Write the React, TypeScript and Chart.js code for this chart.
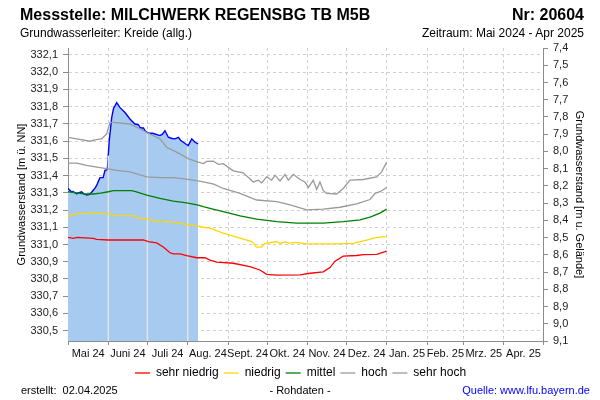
import React, { useEffect, useRef } from "react";
import { Chart, registerables } from "chart.js";

Chart.register(...registerables);

const FONT = '"Liberation Sans", Arial, Helvetica, sans-serif';

// ---- axis / category data ----
const monthLabels = ["Mai 24", "Juni 24", "Juli 24", "Aug. 24", "Sept. 24", "Okt. 24", "Nov. 24", "Dez. 24", "Jan. 25", "Feb. 25", "Mrz. 25", "Apr. 25"];
// day offsets (from 01.05.2024) of each month start, last = 01.05.2025
const monthStartDays = [0, 31, 61, 92, 123, 153, 184, 214, 245, 276, 304, 335, 365];
const leftAxisTicks = [330.5, 330.6, 330.7, 330.8, 330.9, 331.0, 331.1, 331.2, 331.3, 331.4, 331.5, 331.6, 331.7, 331.8, 331.9, 332.0, 332.1];
const rightAxisTicks = [7.4, 7.5, 7.6, 7.7, 7.8, 7.9, 8.0, 8.1, 8.2, 8.3, 8.4, 8.5, 8.6, 8.7, 8.8, 8.9, 9.0, 9.1];
const legendNames = ["sehr niedrig", "niedrig", "mittel", "hoch", "sehr hoch"];

// ---- series: [day, level m ü. NN] ----
const measured: [number, number][] = [
  [0, 331.325], [2, 331.31], [4, 331.306], [5.5, 331.3], [6.7, 331.293], [8, 331.3], [10.5, 331.306], [12, 331.295],
  [14.4, 331.287], [16, 331.29], [17, 331.293], [19.4, 331.315], [21, 331.33], [22.1, 331.344], [23.5, 331.37],
  [24.6, 331.388], [27, 331.388], [28.4, 331.43], [30.2, 331.434], [31.7, 331.603], [33.6, 331.737], [35, 331.79],
  [36.1, 331.804], [37.4, 331.823], [40, 331.794], [43.8, 331.766], [47.6, 331.728], [51.4, 331.699], [54, 331.695],
  [55.3, 331.68], [56.6, 331.676], [58, 331.676], [59.2, 331.66], [60.9, 331.651], [63, 331.645], [65, 331.645],
  [66.9, 331.641], [70.7, 331.632], [72.5, 331.64], [74.5, 331.66], [77.1, 331.622], [80, 331.615], [82.2, 331.613],
  [84.8, 331.622], [86.5, 331.605], [88.6, 331.593], [91, 331.58], [92.4, 331.574], [95.1, 331.613], [97.6, 331.593],
  [100, 331.584],
];

const sehrHoch: [number, number][] = [
  [0, 331.622], [6.7, 331.613], [16.9, 331.599], [20.7, 331.607], [25.9, 331.613], [29.7, 331.641], [32.3, 331.708],
  [34.8, 331.708], [47.6, 331.699], [55.3, 331.67], [63, 331.641], [70.7, 331.613], [75.8, 331.564], [83.5, 331.536],
  [92.4, 331.498], [100.1, 331.478], [104, 331.469], [106.6, 331.482], [111.6, 331.484], [115.5, 331.465],
  [119.3, 331.469], [127, 331.427], [134.7, 331.416], [142.4, 331.363], [146.2, 331.373], [148.8, 331.357],
  [152.7, 331.392], [156.5, 331.373], [159.1, 331.402], [162.9, 331.369], [166.8, 331.407], [169.3, 331.373],
  [173.1, 331.407], [178.3, 331.377], [182.1, 331.363], [184.7, 331.331], [188.5, 331.373], [191.1, 331.319],
  [193.6, 331.363], [196.2, 331.312], [198.8, 331.297], [206.5, 331.293], [211.5, 331.325], [216.7, 331.373],
  [226.9, 331.377], [237.2, 331.392], [241, 331.421], [244.9, 331.478],
];

const hoch: [number, number][] = [
  [0, 331.472], [6.7, 331.472], [14.4, 331.459], [22.1, 331.449], [29.7, 331.44], [37.4, 331.43], [47.6, 331.421],
  [60.5, 331.392], [70.7, 331.388], [80.9, 331.388], [86.1, 331.383], [96.3, 331.373], [104, 331.363], [112, 331.35],
  [119.3, 331.325], [132.2, 331.297], [145, 331.258], [160.4, 331.249], [170.6, 331.23], [183.4, 331.201],
  [196.2, 331.205], [209, 331.216], [221.8, 331.235], [232.1, 331.261], [235.9, 331.297], [239.7, 331.306],
  [244.9, 331.331],
];

const mittel: [number, number][] = [
  [0, 331.306], [6.7, 331.3], [13.1, 331.293], [19.4, 331.293], [25, 331.298], [31, 331.306], [34.8, 331.312],
  [48.9, 331.312], [52, 331.306], [60.5, 331.287], [70.7, 331.267], [80.9, 331.251], [91.2, 331.241],
  [100.1, 331.229], [104, 331.22], [109.1, 331.21], [119.3, 331.191], [132.2, 331.166], [145, 331.147],
  [160.4, 331.133], [175.7, 331.124], [196.2, 331.124], [211.5, 331.133], [224.4, 331.143], [232.1, 331.159],
  [239.7, 331.182], [244.9, 331.205],
];

const niedrig: [number, number][] = [
  [0, 331.162], [5.4, 331.178], [22.1, 331.182], [32.3, 331.178], [34.8, 331.168], [50.2, 331.168], [52.8, 331.156],
  [60.5, 331.149], [68.2, 331.133], [78.4, 331.133], [88.6, 331.12], [98.9, 331.108], [104, 331.1], [109.1, 331.095],
  [119.3, 331.066], [132.2, 331.037], [141.2, 331.017], [145, 330.985], [148.8, 330.985], [151.4, 331.006],
  [155, 331.01], [160.4, 331.017], [162.9, 331.006], [166.8, 331.015], [170, 331.008], [175, 331.012],
  [183.4, 331.003], [196.2, 331.003], [209, 331.003], [219.3, 331.006], [229.5, 331.025], [237.2, 331.041],
  [244.9, 331.045],
];

const sehrNiedrig: [number, number][] = [
  [0, 331.041], [4, 331.035], [7, 331.041], [13, 331.038], [19.4, 331.035], [22, 331.03], [31, 331.026],
  [57.9, 331.026], [61.7, 331.017], [68.2, 331.009], [73.2, 330.985], [78.4, 330.952], [80.9, 330.946],
  [86.1, 330.946], [91.2, 330.936], [98.9, 330.923], [105.3, 330.923], [109.1, 330.909], [114.3, 330.898],
  [127, 330.891], [139.8, 330.872], [147.5, 330.852], [152.7, 330.827], [160.4, 330.822], [178.3, 330.824],
  [186, 330.833], [196.2, 330.841], [201.3, 330.866], [205.2, 330.903], [211.5, 330.932], [221.8, 330.936],
  [226.9, 330.941], [237.2, 330.943], [244.9, 330.961],
];

const GRID = "#d0d0d0";
const AXIS = "#8c8c8c";
const MEASURED_INDEX = 5;

const toXY = (arr: [number, number][]) => arr.map(([x, y]) => ({ x, y }));
const fmt = (v: number) => Number(v).toFixed(1).replace(".", ",");

// vertical light lines drawn over the blue fill at month boundaries
const monthLinesOverFill = {
  id: "monthLinesOverFill",
  afterDatasetDraw(chart: any, args: any) {
    if (args.index !== MEASURED_INDEX) return;
    const pts = args.meta.data;
    const xScale = chart.scales.x;
    const { ctx, chartArea } = chart;
    ctx.save();
    ctx.strokeStyle = "#e4e4e4";
    ctx.lineWidth = 1.5;
    for (const d of monthStartDays) {
      if (d === 0) continue;
      const px = xScale.getPixelForValue(d);
      for (let i = 0; i < pts.length - 1; i++) {
        const a = pts[i];
        const b = pts[i + 1];
        if (px >= a.x && px <= b.x) {
          const t = (px - a.x) / (b.x - a.x || 1);
          const py = a.y + t * (b.y - a.y);
          ctx.beginPath();
          ctx.moveTo(px, chartArea.bottom);
          ctx.lineTo(px, py + 1.5);
          ctx.stroke();
          break;
        }
      }
    }
    ctx.restore();
  },
};

export default function App() {
  const canvasRef = useRef<HTMLCanvasElement | null>(null);

  useEffect(() => {
    if (!canvasRef.current) return;
    const colors = ["#ff0000", "#ffd700", "#008000", "#9a9a9a", "#9a9a9a"];
    const refSeries = [sehrNiedrig, niedrig, mittel, hoch, sehrHoch];
    const datasets: any[] = refSeries.map((s, i) => ({
      label: legendNames[i],
      data: toXY(s),
      borderColor: colors[i],
      backgroundColor: colors[i],
      borderWidth: 1.3,
      pointRadius: 0,
      fill: false,
      tension: 0,
      xAxisID: "x",
      yAxisID: "y",
    }));
    datasets.push({
      label: "Messwerte",
      data: toXY(measured),
      borderColor: "#0000ff",
      backgroundColor: "#a6caf0",
      borderWidth: 1.4,
      pointRadius: 0,
      fill: "start",
      tension: 0,
      xAxisID: "x",
      yAxisID: "y",
    });

    const chart = new Chart(canvasRef.current, {
      type: "line",
      data: { datasets },
      options: {
        responsive: false,
        animation: false,
        devicePixelRatio: 1,
        events: [],
        layout: { padding: { left: 15, right: 14, top: 48, bottom: 11 } },
        plugins: {
          tooltip: { enabled: false },
          title: { display: false },
          legend: {
            position: "bottom",
            labels: {
              filter: (item: any) => item.datasetIndex !== MEASURED_INDEX,
              usePointStyle: true,
              pointStyle: "line",
              pointStyleWidth: 15,
              font: { size: 12, family: FONT },
              color: "#000",
              padding: 5,
            },
          },
        },
        scales: {
          x: {
            type: "linear",
            position: "bottom",
            min: 0,
            max: 365,
            afterBuildTicks: (scale: any) => {
              const t: any[] = [];
              for (let i = 0; i < monthStartDays.length; i++) {
                t.push({ value: monthStartDays[i] });
                if (i < monthLabels.length) t.push({ value: (monthStartDays[i] + monthStartDays[i + 1]) / 2 });
              }
              scale.ticks = t;
            },
            afterFit: (scale: any) => {
              scale.height = 21;
            },
            ticks: {
              autoSkip: false,
              maxRotation: 0,
              minRotation: 0,
              padding: 2,
              color: "#111",
              font: { size: 11, family: FONT },
              callback: (_v: any, index: number) => (index % 2 === 1 ? monthLabels[(index - 1) / 2] : ""),
            },
            grid: {
              color: (c: any) => (c.index % 2 === 0 ? GRID : "rgba(0,0,0,0)"),
              tickColor: (c: any) => (c.index % 2 === 0 ? AXIS : "rgba(0,0,0,0)"),
              tickLength: 4,
              tickBorderDash: [],
              lineWidth: 1,
            },
            border: { color: AXIS, width: 1, dash: [3, 3] },
          },
          y: {
            type: "linear",
            position: "left",
            min: 330.44,
            max: 332.14,
            afterBuildTicks: (scale: any) => {
              scale.ticks = leftAxisTicks.map((v) => ({ value: v }));
            },
            afterFit: (scale: any) => {
              scale.width = 53;
            },
            ticks: {
              padding: 5,
              color: "#222",
              font: { size: 11, family: FONT },
              callback: (v: any) => fmt(v),
            },
            grid: { color: GRID, tickColor: AXIS, tickLength: 5, tickBorderDash: [], lineWidth: 1 },
            border: { color: AXIS, width: 1, dash: [3, 3] },
            title: {
              display: true,
              text: "Grundwasserstand [m ü. NN]",
              color: "#000",
              font: { size: 11, family: FONT },
              padding: { top: 0, bottom: 0 },
            },
          },
          y2: {
            type: "linear",
            position: "right",
            reverse: true,
            min: 7.4,
            max: 9.1,
            afterBuildTicks: (scale: any) => {
              scale.ticks = rightAxisTicks.map((v) => ({ value: v }));
            },
            afterFit: (scale: any) => {
              scale.width = 43;
            },
            ticks: {
              padding: 5,
              color: "#222",
              font: { size: 11, family: FONT },
              callback: (v: any) => fmt(v),
            },
            grid: { drawOnChartArea: false, color: GRID, tickColor: AXIS, tickLength: 5, tickBorderDash: [] },
            border: { color: AXIS, width: 1 },
            title: {
              display: true,
              text: "Grundwasserstand [m u. Gelände]",
              color: "#000",
              font: { size: 11, family: FONT },
              padding: { top: 0, bottom: 0 },
            },
          },
        },
      } as any,
      plugins: [monthLinesOverFill],
    });
    return () => chart.destroy();
  }, []);

  const base: React.CSSProperties = {
    position: "absolute",
    whiteSpace: "pre",
    lineHeight: 1,
    fontFamily: FONT,
    color: "#000",
    transform: "translateY(-50%)",
  };

  return (
    <div style={{ position: "absolute", left: 0, top: 0, width: 600, height: 400, background: "#fff", overflow: "hidden" }}>
      <canvas ref={canvasRef} width={600} height={400} style={{ position: "absolute", left: 0, top: 0, width: 600, height: 400 }} />
      <div style={{ ...base, left: 20, top: 15, fontSize: 16, fontWeight: "bold" }}>Messstelle: MILCHWERK REGENSBG TB M5B</div>
      <div style={{ ...base, right: 16, top: 15, fontSize: 16, fontWeight: "bold" }}>Nr: 20604</div>
      <div style={{ ...base, left: 20, top: 33, fontSize: 12 }}>Grundwasserleiter: Kreide (allg.)</div>
      <div style={{ ...base, right: 16, top: 33, fontSize: 12 }}>Zeitraum: Mai 2024 - Apr 2025</div>
      <div style={{ ...base, left: 21, top: 390, fontSize: 11 }}>{"erstellt:  02.04.2025"}</div>
      <div style={{ ...base, left: 300, top: 390, fontSize: 11, transform: "translate(-50%, -50%)" }}>- Rohdaten -</div>
      <div style={{ ...base, right: 10, top: 390, fontSize: 11, color: "#0000ff" }}>Quelle: www.lfu.bayern.de</div>
    </div>
  );
}
